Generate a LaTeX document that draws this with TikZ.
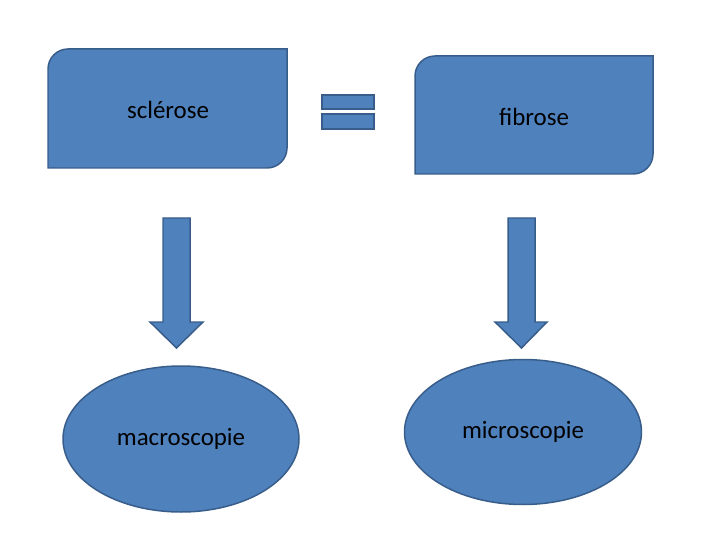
\documentclass[tikz,border=0pt]{standalone}
\usepackage{fontspec}
\setmainfont{Carlito}
\usetikzlibrary{shapes.geometric,shapes.arrows,positioning}
\definecolor{boxfill}{HTML}{4F81BD}
\definecolor{boxline}{HTML}{385D8A}
\tikzset{
	shapebox/.style={fill=boxfill, draw=boxline, line width=1.5pt},
	ovalnode/.style={ellipse, shapebox, inner sep=0pt},
	lbl/.style={font=\fontsize{25}{30}\selectfont}
}
\begin{document}
\begin{tikzpicture}[x=1bp,y=-1bp]
	\useasboundingbox (0,0) rectangle (720,540);
	% top boxes, rounded on two corners
	\draw[shapebox] (48,168) -- (48,69) arc[start angle=180,end angle=270,radius=20] -- (287,49) -- (287,148) arc[start angle=0,end angle=90,radius=20] -- cycle;
	\node[lbl] (scl) at (168,110) {sclérose};
	\draw[shapebox] (415,174) -- (415,76) arc[start angle=180,end angle=270,radius=20] -- (653,56) -- (653,154) arc[start angle=0,end angle=90,radius=20] -- cycle;
	\node[lbl] (fib) at (534,117) {fibrose};
	% equal sign
	\draw[shapebox] (322,95) rectangle (374,109);
	\draw[shapebox] (322,114) rectangle (374,129);
	% block arrows
	\draw[shapebox] (163,218) -- (190,218) -- (190,322) -- (203,322) -- (176.5,348) -- (150,322) -- (163,322) -- cycle;
	\draw[shapebox] (508,218) -- (535,218) -- (535,322) -- (547,322) -- (521.5,348) -- (495,322) -- (508,322) -- cycle;
	% ovals
	\node[ovalnode, minimum width=236bp, minimum height=146bp, lbl] (mac) at (181,439) {macroscopie};
	\node[ovalnode, minimum width=237bp, minimum height=145bp, lbl] (mic) at (523,432) {microscopie};
\end{tikzpicture}
\end{document}
